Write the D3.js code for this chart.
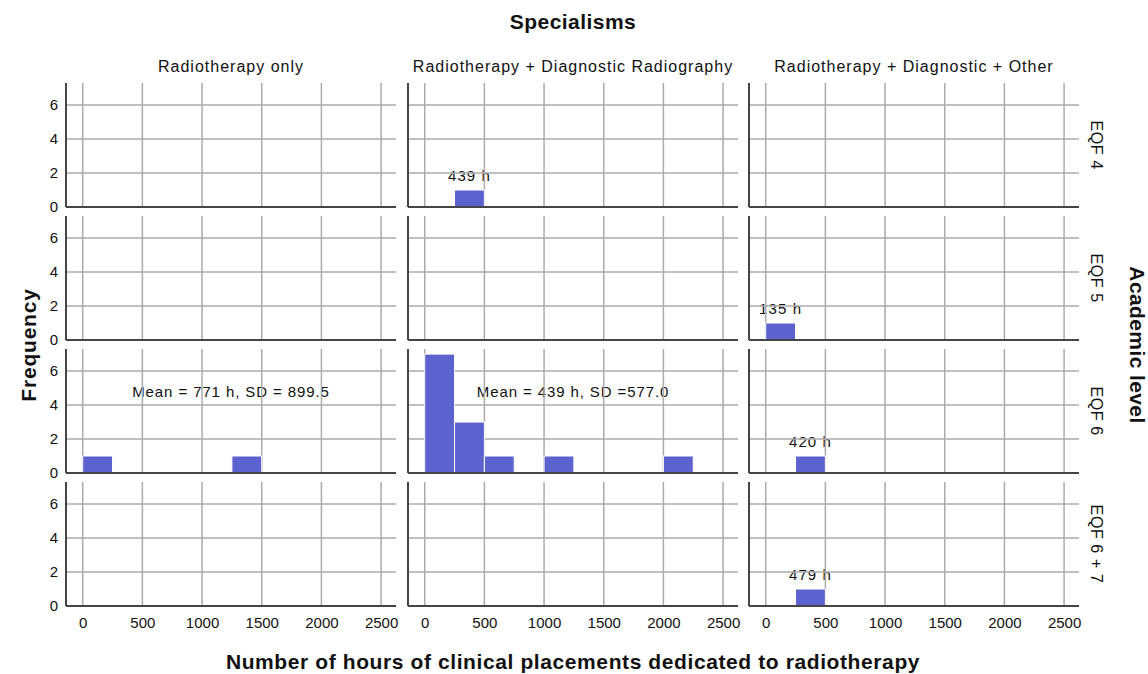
<!DOCTYPE html>
<html>
<head>
<meta charset="utf-8">
<script src="https://cdn.jsdelivr.net/npm/d3@7"></script>
<style>
  html, body { margin: 0; padding: 0; background: #fff; }
  svg { display: block; font-family: "Liberation Sans", Arial, sans-serif; }
</style>
</head>
<body>
<svg id="chart" width="1148" height="674"></svg>
<script>
// Facet labels
const specialisms = ["Radiotherapy only", "Radiotherapy + Diagnostic Radiography", "Radiotherapy + Diagnostic + Other"];
const levels = ["EQF 4", "EQF 5", "EQF 6", "EQF 6 + 7"];

// Histogram bins (hours), width 250
const binWidth = 250;
const binStarts = [0, 250, 500, 750, 1000, 1250, 1500, 1750, 2000, 2250];

// Axis ticks
const xTicks = [0, 500, 1000, 1500, 2000, 2500];
const yTicks = [0, 2, 4, 6];

// Individual programmes (hours of clinical placement in radiotherapy)
const rtOnlyEQF6 = [135, 1407];
const rtDiagEQF4 = [439];
const rtOtherEQF5 = [135];
const rtOtherEQF6 = [420];
const rtOtherEQF67 = [479];

// Counts per 250 h bin where only the distribution is known
const rtDiagEQF6Counts = [7, 3, 1, 0, 1, 0, 0, 0, 1, 0];

// Summary annotations
const meanLabels = ["Mean = 771 h, SD = 899.5", "Mean = 439 h, SD =577.0"];

// Counts from raw values
function countsFrom(values) {
  return binStarts.map(b => values.filter(v => v >= b && v < b + binWidth).length);
}

// panel list: column, row, bin counts, annotation
const panels = [
  { col: 0, row: 2, counts: countsFrom(rtOnlyEQF6), note: meanLabels[0] },
  { col: 1, row: 0, counts: countsFrom(rtDiagEQF4), value: rtDiagEQF4[0] },
  { col: 1, row: 2, counts: rtDiagEQF6Counts, note: meanLabels[1] },
  { col: 2, row: 1, counts: countsFrom(rtOtherEQF5), value: rtOtherEQF5[0] },
  { col: 2, row: 2, counts: countsFrom(rtOtherEQF6), value: rtOtherEQF6[0] },
  { col: 2, row: 3, counts: countsFrom(rtOtherEQF67), value: rtOtherEQF67[0] }
];

const svg = d3.select("#chart");

const colLeft = [66, 408, 749];
const rowTop = [83, 216, 349, 482];
const pw = 330, ph = 124;

const x = d3.scaleLinear().domain([-140, 2625]).range([0, pw]);
const y = d3.scaleLinear().domain([0, 7.3]).range([ph, 0]);

const gridColor = "#ababab";
const axisColor = "#454545";
const barColor = "#5c63cf";
const textColor = "#111";

// Titles
svg.append("text").attr("x", 573).attr("y", 29).attr("text-anchor", "middle")
  .attr("font-size", 21).attr("letter-spacing", 0.45).attr("font-weight", "bold")
  .attr("fill", textColor).text("Specialisms");

svg.append("text").attr("x", 573).attr("y", 669).attr("text-anchor", "middle")
  .attr("font-size", 21).attr("letter-spacing", 0.6).attr("font-weight", "bold")
  .attr("fill", textColor)
  .text("Number of hours of clinical placements dedicated to radiotherapy");

svg.append("text").attr("transform", "translate(36,345) rotate(-90)").attr("text-anchor", "middle")
  .attr("font-size", 21).attr("letter-spacing", 0.8).attr("font-weight", "bold")
  .attr("fill", textColor).text("Frequency");

svg.append("text").attr("transform", "translate(1130,345) rotate(90)").attr("text-anchor", "middle")
  .attr("font-size", 21).attr("letter-spacing", 0.4).attr("font-weight", "bold")
  .attr("fill", textColor).text("Academic level");

// Column strip titles
specialisms.forEach((s, i) => {
  svg.append("text").attr("x", colLeft[i] + pw / 2).attr("y", 72).attr("text-anchor", "middle")
    .attr("font-size", 16).attr("letter-spacing", 1.0).attr("fill", textColor).text(s);
});

// Row strip titles
levels.forEach((l, j) => {
  svg.append("text").attr("transform", `translate(${1091},${rowTop[j] + ph / 2}) rotate(90)`)
    .attr("text-anchor", "middle").attr("font-size", 16).attr("letter-spacing", 0.6)
    .attr("fill", textColor).text(l);
});

// Panels
for (let r = 0; r < levels.length; r++) {
  for (let c = 0; c < specialisms.length; c++) {
    const g = svg.append("g").attr("transform", `translate(${colLeft[c]},${rowTop[r]})`);
    const p = panels.find(d => d.col === c && d.row === r);

    // annotations sit beneath the grid
    if (p && p.note) {
      g.append("text").attr("x", pw / 2).attr("y", y(4.45)).attr("text-anchor", "middle")
        .attr("font-size", 15).attr("letter-spacing", 0.9).attr("fill", textColor).text(p.note);
    }
    if (p && p.value !== undefined) {
      const i = p.counts.findIndex(v => v > 0);
      g.append("text").attr("x", x(binStarts[i] + binWidth / 2)).attr("y", y(p.counts[i]) - 9)
        .attr("text-anchor", "middle").attr("font-size", 15).attr("letter-spacing", 1.1)
        .attr("fill", textColor).text(`${p.value} h`);
    }

    // grid
    g.selectAll("line.h").data(yTicks.filter(t => t > 0)).join("line")
      .attr("x1", 0).attr("x2", pw).attr("y1", d => y(d)).attr("y2", d => y(d))
      .attr("stroke", gridColor).attr("stroke-width", 1.5);
    g.selectAll("line.v").data(xTicks).join("line")
      .attr("x1", d => x(d)).attr("x2", d => x(d)).attr("y1", 0).attr("y2", ph)
      .attr("stroke", gridColor).attr("stroke-width", 1.5);

    // bars
    if (p) {
      g.selectAll("rect").data(p.counts.map((n, i) => ({ n, b: binStarts[i] })).filter(d => d.n > 0))
        .join("rect")
        .attr("x", d => x(d.b)).attr("width", d => x(d.b + binWidth) - x(d.b))
        .attr("y", d => y(d.n)).attr("height", d => y(0) - y(d.n))
        .attr("fill", barColor).attr("stroke", "#fff").attr("stroke-width", 1);
    }

    // axis lines
    g.append("line").attr("x1", 0).attr("x2", 0).attr("y1", 0).attr("y2", ph)
      .attr("stroke", axisColor).attr("stroke-width", 2);
    g.append("line").attr("x1", 0).attr("x2", pw).attr("y1", ph).attr("y2", ph)
      .attr("stroke", axisColor).attr("stroke-width", 2);

    // tick labels
    if (c === 0) {
      const ya = d3.axisLeft(y).tickValues(yTicks).tickSize(0).tickPadding(8);
      const ag = g.append("g").call(ya);
      ag.select(".domain").remove();
      ag.selectAll("text").attr("font-size", 15).attr("fill", textColor)
        .attr("font-family", "'Liberation Sans', Arial, sans-serif");
    }
    if (r === levels.length - 1) {
      const xa = d3.axisBottom(x).tickValues(xTicks).tickSize(0).tickPadding(11).tickFormat(d3.format("d"));
      const ag = g.append("g").attr("transform", `translate(0,${ph})`).call(xa);
      ag.select(".domain").remove();
      ag.selectAll("text").attr("font-size", 15).attr("fill", textColor)
        .attr("font-family", "'Liberation Sans', Arial, sans-serif");
    }
  }
}
</script>
</body>
</html>
